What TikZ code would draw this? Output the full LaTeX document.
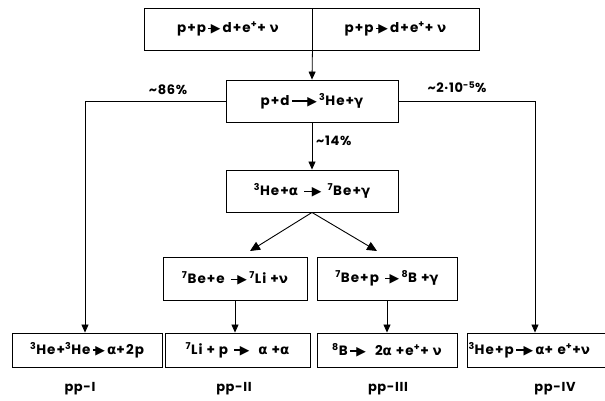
\documentclass[tikz,border=0pt]{standalone}
\usepackage{fontspec}
\setmainfont{Poppins}
\newfontfamily\djv{DejaVu Sans}
\usetikzlibrary{arrows.meta}
\newcommand\rxn[1][8pt]{\,\rule[0.26em]{#1}{1.5pt}\kern-2.5pt{\djv\fontsize{12.5}{12}\selectfont ▶}\,}
\newcommand\sps[1]{\textsuperscript{#1}}
\newcommand\gal{{\djv\bfseries α}}
\newcommand\gga{{\djv\bfseries γ}}
\newcommand\gnu{{\djv\bfseries ν}}
\begin{document}
\begin{tikzpicture}[x=1pt,y=-1pt,
  box/.style={draw,line width=0.9pt,rectangle,inner sep=0pt,font=\bfseries\fontsize{13.5}{15}\selectfont\addfontfeature{LetterSpace=8}},
  lbl/.style={font=\bfseries\fontsize{13}{15}\selectfont\addfontfeature{LetterSpace=5},inner sep=1pt},
  conn/.style={line width=0.8pt,-{Triangle[length=8pt,width=7pt]}},
  diag/.style={line width=0.9pt,-{Triangle[length=10pt,width=9pt]}}]
\useasboundingbox (0,0) rectangle (605,400);
% boxes
\node[box,minimum width=168pt,minimum height=42pt] (tl) at (228,29) {p+p\rxn[5pt]d+e\sps{+}+ \gnu};
\node[box,minimum width=167pt,minimum height=42pt] (tr) at (395.5,29) {p+p\rxn[5pt]d+e\sps{+}+ \gnu};
\node[box,minimum width=172pt,minimum height=42pt] (pd) at (312,101) {p+d\rxn[18pt]\sps{3}He+\gga};
\node[box,minimum width=172pt,minimum height=42pt] (hea) at (312,191) {\sps{3}He+\gal\ \rxn[10pt]\ \sps{7}Be+\gga};
\node[box,minimum width=144pt,minimum height=43pt] (bee) at (235,278.5) {\sps{7}Be+e \rxn[9pt]\sps{7}Li +\gnu};
\node[box,minimum width=140pt,minimum height=43pt] (bep) at (387,278.5) {\sps{7}Be+p \rxn[7pt]\sps{8}B +\gga};
\node[box,minimum width=150pt,minimum height=34pt] (p1) at (87,350) {\sps{3}He+\sps{3}He\rxn[5pt]\gal+2p};
\node[box,minimum width=145pt,minimum height=34pt] (p2) at (237.5,350) {\sps{7}Li + p \rxn[8pt]\enspace\gal\ +\gal};
\node[box,minimum width=140pt,minimum height=34pt] (p3) at (387,350) {\sps{8}B\rxn[9pt]\enspace 2\gal\ +e\sps{+}+ \gnu};
\node[box,minimum width=143pt,minimum height=34pt,text width=140pt,align=left] (p4) at (538.5,350) {\sps{3}He+p\rxn[10pt]\gal+ e\sps{+}+\gnu};
% labels
\node[lbl] (l1) at (80,389) {pp-I};
\node[lbl] (l2) at (234,389) {pp-II};
\node[lbl] (l3) at (388,389) {pp-III};
\node[lbl] (l4) at (555,389) {pp-IV};
\node[lbl] (a86) at (168,90) {\textasciitilde86\%};
\node[lbl] (a2) at (457,87) {\textasciitilde2·10\sps{-5}\%};
\node[lbl,anchor=west] (a14) at (315,141) {\textasciitilde14\%};
% connectors
\coordinate (c1) at (85,101);
\coordinate (c4) at (535,101);
\coordinate (ta) at (250,251);
\coordinate (tb) at (377,251);
\draw[conn] (tl.south east) -- (pd.north);
\draw[conn] (pd.west) -- (c1) -- (c1 |- p1.north);
\draw[conn] (pd.east) -- (c4) -- (c4 |- p4.north);
\draw[conn] (pd.south) -- (hea.north);
\draw[diag] (hea.south) -- (ta);
\draw[diag] (hea.south) -- (tb);
\draw[conn] (bee.south) -- (bee.south |- p2.north);
\draw[conn] (bep.south) -- (bep.south |- p3.north);
\end{tikzpicture}
\end{document}
